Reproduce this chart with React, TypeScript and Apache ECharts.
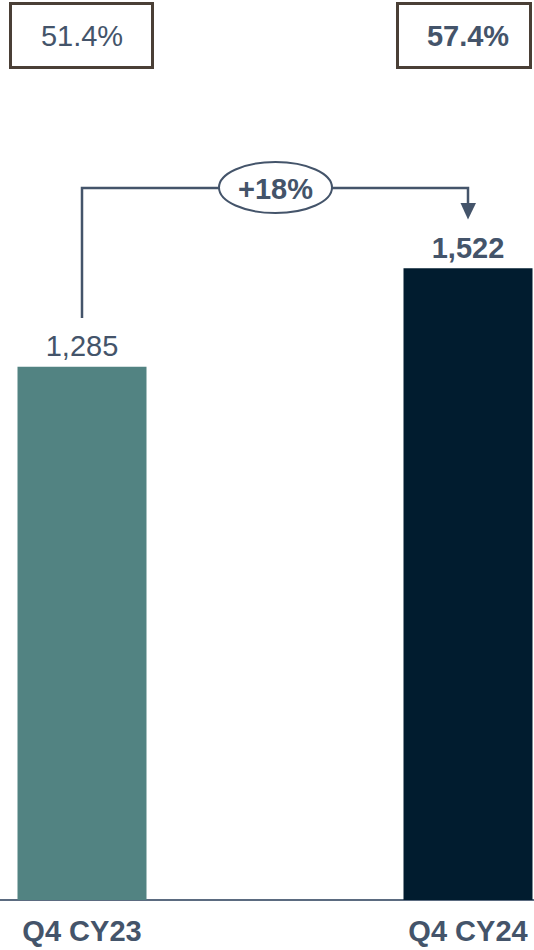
import React, { useEffect, useRef } from "react";
import * as echarts from "echarts";

const categories = ["Q4 CY23", "Q4 CY24"];
const values = [1285, 1522];
const barColors = ["#528382", "#011c2f"];
const labelWeights = ["normal", "bold"];
const margins = ["51.4%", "57.4%"];
const marginWeights = ["normal", "bold"];
const growthLabel = "+18%";

const TEXT = "#44546a";
const FONT = "Liberation Sans, Arial, sans-serif";
const FS = 29;

export default function App() {
  const ref = useRef<HTMLDivElement>(null);
  useEffect(() => {
    if (!ref.current) return;
    const chart = echarts.init(ref.current, undefined, { renderer: "svg" });
    const lineStyle = { stroke: TEXT, lineWidth: 2.5, fill: null as any };
    chart.setOption({
      animation: false,
      grid: { left: 82, right: 66, top: 70, bottom: 50, containLabel: false },
      xAxis: {
        type: "category",
        data: categories,
        boundaryGap: false,
        axisLine: { show: false },
        axisTick: { show: false },
        axisLabel: {
          color: TEXT,
          fontFamily: FONT,
          fontWeight: "bold",
          fontSize: FS,
          margin: 16,
        },
      },
      yAxis: { type: "value", min: 0, max: 2000, show: false, splitLine: { show: false } },
      series: [
        {
          type: "bar",
          barWidth: 129,
          clip: false,
          data: values.map((v, i) => ({
            value: v,
            itemStyle: { color: barColors[i] },
            label: { fontWeight: labelWeights[i] },
          })),
          label: {
            show: true,
            position: "top",
            distance: 6,
            color: TEXT,
            fontFamily: FONT,
            fontSize: FS,
            formatter: (p: any) => p.value.toLocaleString("en-US"),
          },
        },
      ],
      graphic: [
        { type: "line", shape: { x1: 0, y1: 900, x2: 534, y2: 900 }, style: { stroke: "#5b6b80", lineWidth: 2 } },
        { type: "polyline", shape: { points: [[82, 318], [82, 188], [219, 188]] }, style: lineStyle },
        { type: "polyline", shape: { points: [[332, 188], [468, 188], [468, 205]] }, style: lineStyle },
        { type: "polygon", shape: { points: [[460.5, 203], [476, 203], [468, 219.5]] }, style: { fill: TEXT } },
        { type: "ellipse", shape: { cx: 275.5, cy: 187.5, rx: 56.5, ry: 25.5 }, style: { stroke: TEXT, lineWidth: 2, fill: "#fff" } },
        {
          type: "text",
          x: 275.5,
          y: 189,
          style: { text: growthLabel, fill: TEXT, font: `bold ${FS}px ${FONT}`, align: "center", verticalAlign: "middle" },
        },
        { type: "rect", shape: { x: 10.5, y: 3.5, width: 142, height: 64 }, style: { stroke: "#4a3f36", lineWidth: 3, fill: null } },
        {
          type: "text",
          x: 82,
          y: 36,
          style: { text: margins[0], fill: TEXT, font: `${marginWeights[0]} ${FS}px ${FONT}`, align: "center", verticalAlign: "middle" },
        },
        { type: "rect", shape: { x: 397.5, y: 3.5, width: 133, height: 64 }, style: { stroke: "#4a3f36", lineWidth: 3, fill: null } },
        {
          type: "text",
          x: 468,
          y: 36,
          style: { text: margins[1], fill: TEXT, font: `${marginWeights[1]} ${FS}px ${FONT}`, align: "center", verticalAlign: "middle" },
        },
      ],
    });
    return () => chart.dispose();
  }, []);
  return (
    <div
      ref={ref}
      style={{ position: "fixed", left: 0, top: 0, width: 534, height: 950, background: "#fff" }}
    />
  );
}
